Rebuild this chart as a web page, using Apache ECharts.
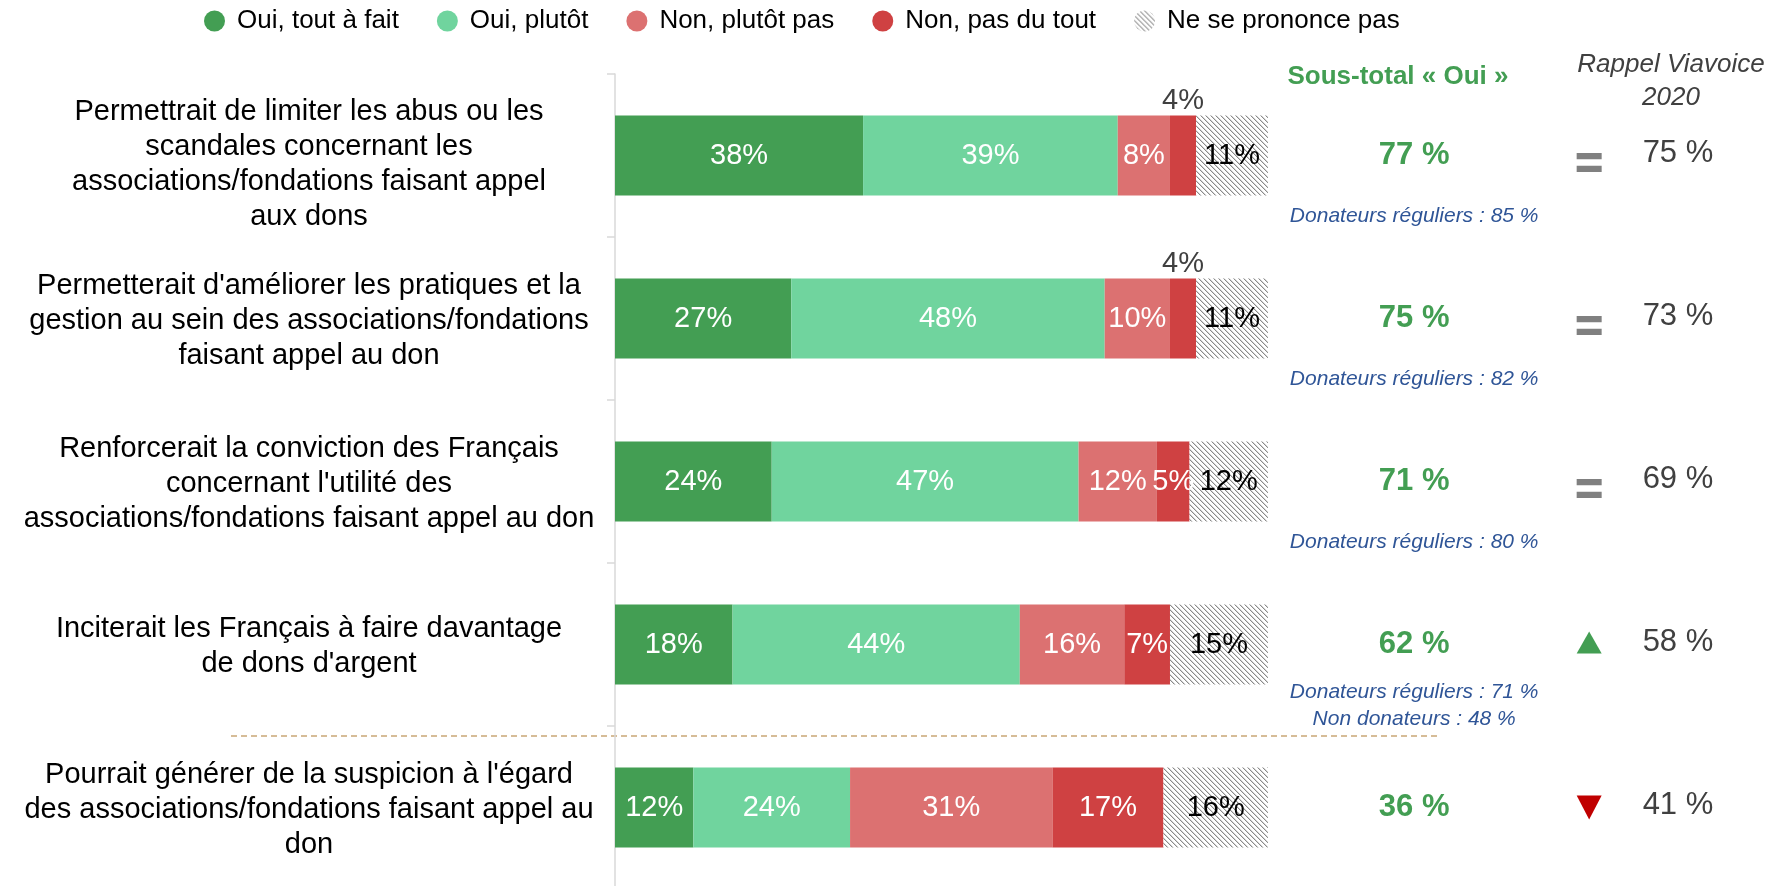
<!DOCTYPE html>
<html>
<head>
<meta charset="utf-8">
<script src="https://cdn.jsdelivr.net/npm/echarts@6/dist/echarts.min.js"></script>
<style>
  html, body { margin: 0; padding: 0; background: #fff; }
  #main { width: 1787px; height: 886px; }
</style>
</head>
<body>
<div id="main"></div>
<script>
const chartDom = document.getElementById('main');
const myChart = echarts.init(chartDom);

const categories = [
    "Permettrait de limiter les abus ou les\nscandales concernant les\nassociations/fondations faisant appel\naux dons",
    "Permetterait d'améliorer les pratiques et la\ngestion au sein des associations/fondations\nfaisant appel au don",
    "Renforcerait la conviction des Français\nconcernant l'utilité des\nassociations/fondations faisant appel au don",
    "Inciterait les Français à faire davantage\nde dons d'argent",
    "Pourrait générer de la suspicion à l'égard\ndes associations/fondations faisant appel au\ndon"
];

const seriesNames = ['Oui, tout à fait', 'Oui, plutôt', 'Non, plutôt pas', 'Non, pas du tout', 'Ne se prononce pas'];
const ouiToutAFait = [38, 27, 24, 18, 12];
const ouiPlutot = [39, 48, 47, 44, 24];
const nonPlutotPas = [8, 10, 12, 16, 31];
const nonPasDuTout = [4, 4, 5, 7, 17];
const nsp = [11, 11, 12, 15, 16];

const sousTotalOui = [77, 75, 71, 62, 36];
const donateursReguliers = [85, 82, 80, 71, null];
const nonDonateurs = [null, null, null, 48, null];
const rappel2020 = [75, 73, 69, 58, 41];
const evolution = ['=', '=', '=', 'up', 'down'];

const colors = ['#439E53', '#70D49E', '#DC7171', '#CF4142'];
const green = '#439E53';
const darkGrey = '#404040';
const blue = '#2F5597';
const font = 'Liberation Sans, Arial';

// columns on the right, in x axis units (bars go 0..100)
const colTotal = 122.4;
const colTrend = 149.2;
const colRappel = 162.8;

// hatched fill for "Ne se prononce pas"
makeHatch = () => {
    const c = document.createElement('canvas');
    const n = 5;
    c.width = n;
    c.height = n;
    const ctx = c.getContext('2d');
    ctx.fillStyle = '#ffffff';
    ctx.fillRect(0, 0, n, n);
    for (let y = 0; y < n; y++) {
        for (let x = 0; x < n; x++) {
            const d = (x - y + n) % n;
            if (d === 0) {
                ctx.fillStyle = '#8a8a8a';
                ctx.fillRect(x, y, 1, 1);
            } else if (d === 1) {
                ctx.fillStyle = '#d6d6d6';
                ctx.fillRect(x, y, 1, 1);
            }
        }
    }
    return c;
};
const hatch = { image: makeHatch(), repeat: 'repeat' };

barSeries = (name, values, color, labelColor) => ({
    name,
    type: 'bar',
    stack: 'total',
    barWidth: '49%',
    itemStyle: { color },
    label: {
        show: true,
        position: 'inside',
        formatter: '{c}%',
        color: labelColor,
        fontSize: 29,
        fontFamily: font
    },
    data: values.map((v) => v < 5
        ? { value: v, label: { position: 'top', distance: 0, color: darkGrey } }
        : v)
});

const eqPath = 'path://M0,0H24V6H0Z M0,12H24V18H0Z';

const trendData = evolution.map((e, i) => {
    if (e === 'up') {
        return { value: [colTrend, i], symbol: 'triangle', symbolSize: [25, 22], symbolOffset: [0, -2], itemStyle: { color: green, opacity: 1 } };
    }
    if (e === 'down') {
        return { value: [colTrend, i], symbol: 'triangle', symbolRotate: 180, symbolSize: [25, 24], itemStyle: { color: '#C00000', opacity: 1 } };
    }
    return { value: [colTrend, i], symbol: eqPath, symbolSize: [25, 19], symbolOffset: [0, 7], itemStyle: { color: '#808080', opacity: 1 } };
});

const noteText = donateursReguliers.map((d, i) => {
    const lines = [];
    if (d !== null) lines.push(`Donateurs réguliers : ${d} %`);
    if (nonDonateurs[i] !== null) lines.push(`Non donateurs : ${nonDonateurs[i]} %`);
    return lines.join('\n');
});

textScatter = (name, x, texts, style, offset) => ({
    name,
    type: 'scatter',
    symbolSize: 1,
    itemStyle: { color: '#fff', opacity: 0 },
    silent: true,
    label: Object.assign({
        show: true,
        position: 'inside',
        opacity: 1,
        offset: offset || [0, 0],
        formatter: (p) => texts[p.dataIndex],
        fontFamily: font
    }, style),
    data: texts.map((t, i) => [x, i])
});

// the first question label sits lower than the others
const labelRich = (i) => (i === 0 ? 'first' : 'rest');

myChart.setOption({
    animation: false,
    legend: {
        data: seriesNames,
        left: 204,
        top: 8,
        icon: 'circle',
        itemWidth: 21,
        itemHeight: 21,
        itemGap: 38,
        padding: 0,
        textStyle: {
            fontSize: 26,
            color: '#000',
            fontFamily: font,
            padding: [0, 0, 0, 7]
        }
    },
    grid: {
        left: 615,
        top: 74,
        right: 0,
        height: 815,
        containLabel: false,
        outerBoundsMode: 'none'
    },
    xAxis: {
        type: 'value',
        min: 0,
        max: 179.5,
        show: false
    },
    yAxis: {
        type: 'category',
        data: categories,
        inverse: true,
        axisLine: { show: true, lineStyle: { color: '#D9D9D9', width: 1.5 } },
        axisTick: { show: true, length: 8, lineStyle: { color: '#D9D9D9', width: 1.5 } },
        splitLine: { show: false },
        axisLabel: {
            align: 'center',
            margin: 306,
            fontSize: 29,
            lineHeight: 35,
            color: '#000',
            fontFamily: font,
            formatter: (v, i) => {
                const key = labelRich(i);
                return v.split('\n').map((l) => `{${key}|${l}}`).join('\n');
            },
            rich: {
                first: { fontSize: 29, lineHeight: 35, padding: [18, 0, 0, 0], fontFamily: font, color: '#000' },
                rest: { fontSize: 29, lineHeight: 35, padding: [4, 0, 0, 0], fontFamily: font, color: '#000' }
            }
        }
    },
    graphic: [
        {
            type: 'text',
            x: 1398, y: 77,
            style: {
                text: 'Sous-total « Oui »',
                fill: green,
                font: 'bold 26px Liberation Sans, Arial',
                align: 'center',
                verticalAlign: 'middle'
            }
        },
        {
            type: 'text',
            x: 1671, y: 81,
            style: {
                text: 'Rappel Viavoice\n2020',
                fill: darkGrey,
                font: 'italic 26px Liberation Sans, Arial',
                lineHeight: 33,
                align: 'center',
                verticalAlign: 'middle'
            }
        },
        {
            type: 'line',
            shape: { x1: 231, y1: 736, x2: 1437, y2: 736 },
            style: { stroke: '#C9A676', lineWidth: 1.5, lineDash: [6, 4] }
        }
    ],
    series: [
        barSeries(seriesNames[0], ouiToutAFait, colors[0], '#fff'),
        barSeries(seriesNames[1], ouiPlutot, colors[1], '#fff'),
        barSeries(seriesNames[2], nonPlutotPas, colors[2], '#fff'),
        barSeries(seriesNames[3], nonPasDuTout, colors[3], '#fff'),
        barSeries(seriesNames[4], nsp, hatch, '#000'),
        textScatter('sousTotal', colTotal, sousTotalOui.map((v) => `${v} %`),
            { color: green, fontSize: 31, fontWeight: 'bold' }),
        textScatter('donateurs', colTotal, noteText,
            { color: blue, fontSize: 21, fontStyle: 'italic', lineHeight: 27 }, [0, 61]),
        textScatter('rappel', colRappel, rappel2020.map((v) => `${v} %`),
            { color: darkGrey, fontSize: 31 }, [0, -2]),
        {
            name: 'evolution',
            type: 'scatter',
            silent: true,
            data: trendData
        }
    ]
});

window.addEventListener('resize', () => {
    myChart.resize();
});
</script>
</body>
</html>
